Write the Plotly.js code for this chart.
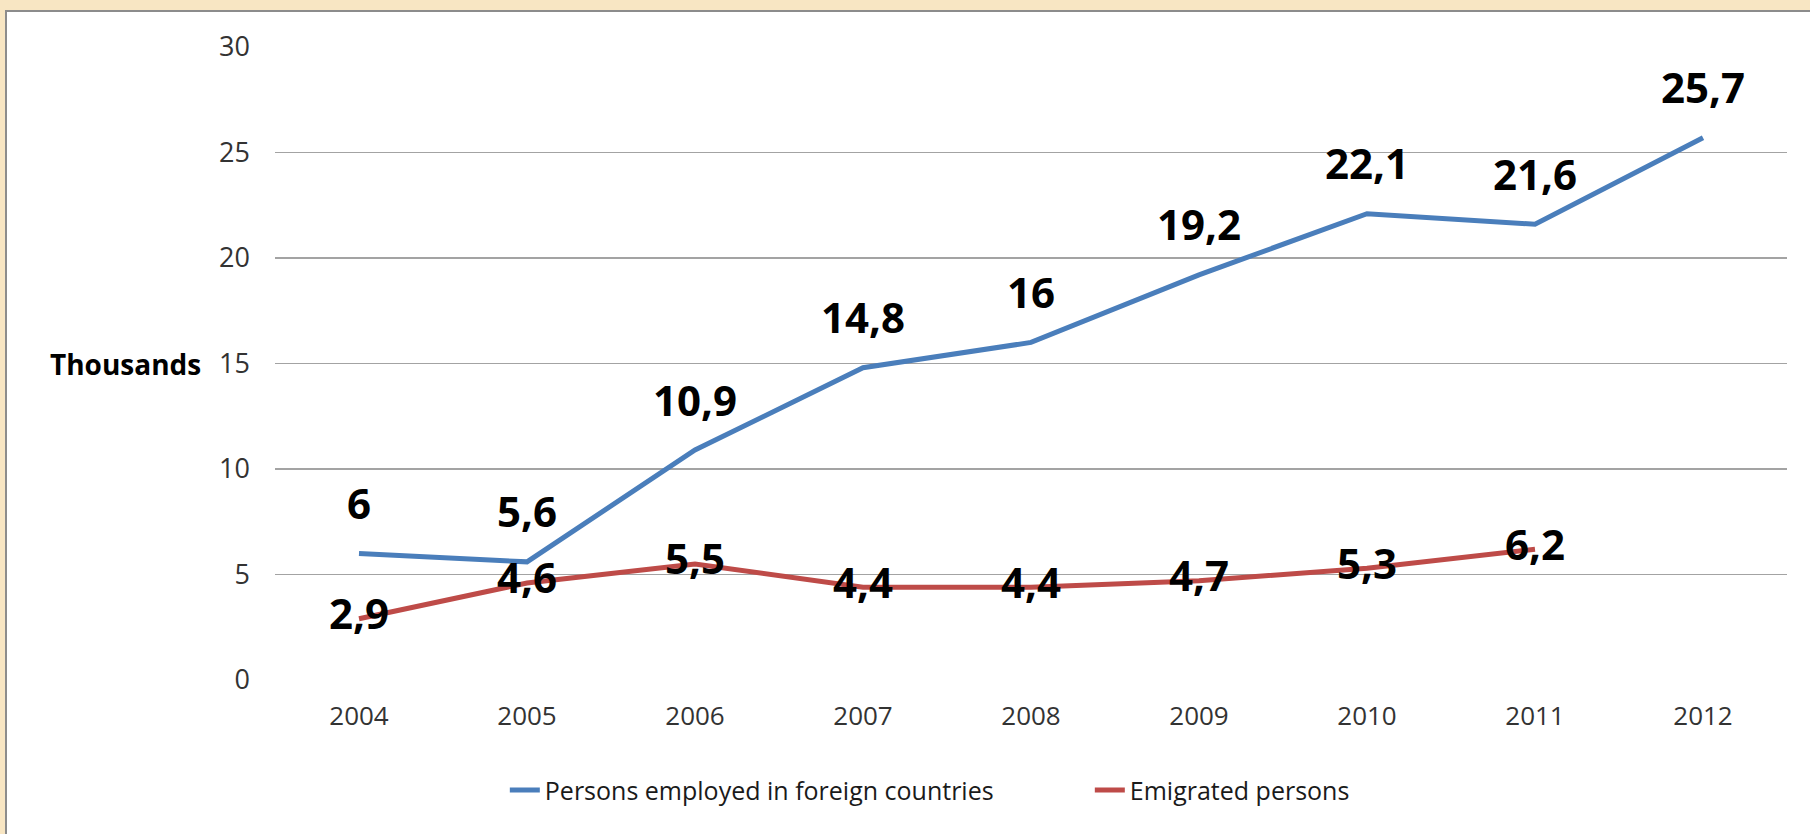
<!DOCTYPE html>
<html>
<head>
<meta charset="utf-8">
<script src="https://cdn.plot.ly/plotly-3.0.1.min.js"></script>
<style>
  html, body { margin: 0; padding: 0; background: #F8E6C3; width: 1810px; height: 834px; overflow: hidden; }
  #chart { position: absolute; left: 5px; top: 10px; width: 1805px; height: 824px;
           border-left: 2px solid #8c8c8c; border-top: 2px solid #8c8c8c; background: #fff; box-sizing: border-box; }
</style>
</head>
<body>
<div id="chart"></div>
<script>
const years = ['2004','2005','2006','2007','2008','2009','2010','2011','2012'];
const employedAbroad = [6, 5.6, 10.9, 14.8, 16, 19.2, 22.1, 21.6, 25.7];
const emigrated = [2.9, 4.6, 5.5, 4.4, 4.4, 4.7, 5.3, 6.2, null];
const yTicks = [0, 5, 10, 15, 20, 25, 30];
const seriesNames = ['Persons employed in foreign countries', 'Emigrated persons'];
const yTitle = 'Thousands';

const fmt = v => (v === null ? '' : String(v).replace('.', ','));
const FONT = '"Open Sans", "Liberation Sans", sans-serif';

const traces = [
  {
    x: years, y: employedAbroad, name: seriesNames[0], type: 'scatter', mode: 'lines',
    line: { color: '#4A7EBB', width: 5 }, hoverinfo: 'skip'
  },
  {
    x: years, y: emigrated, name: seriesNames[1], type: 'scatter', mode: 'lines+text',
    line: { color: '#BE4B48', width: 5 },
    text: emigrated.map(fmt), textposition: 'middle center',
    textfont: { family: FONT, size: 42, color: '#000', weight: 'bold' }, hoverinfo: 'skip'
  }
];

// category axis: annotation x uses the category index
const annotations = employedAbroad.map((v, i) => ({
  x: i, y: v, xref: 'x', yref: 'y', text: '<b>' + fmt(v) + '</b>',
  showarrow: false, yshift: 51, xanchor: 'center', yanchor: 'middle',
  font: { family: FONT, size: 42, color: '#000' }
}));
annotations.push({
  x: -0.0476, y: 15, xref: 'paper', yref: 'y', text: '<b>' + yTitle + '</b>',
  showarrow: false, xanchor: 'right', yanchor: 'middle',
  font: { family: FONT, size: 28, color: '#000' }
});

const layout = {
  width: 1803, height: 822,
  margin: { l: 268, r: 23, t: 35, b: 154, pad: 0 },
  paper_bgcolor: '#ffffff', plot_bgcolor: '#ffffff',
  showlegend: true,
  legend: {
    orientation: 'h', x: 0.152, xanchor: 'left', y: -0.174, yanchor: 'middle',
    font: { family: FONT, size: 25, color: '#1a1a1a' },
    entrywidth: 540, entrywidthmode: 'pixels', bgcolor: 'rgba(0,0,0,0)'
  },
  xaxis: {
    type: 'category', range: [-0.5, 8.5], showgrid: false, zeroline: false,
    showline: false, ticks: '', tickfont: { family: FONT, size: 26, color: '#333' },
    ticklabelstandoff: 18, fixedrange: true
  },
  yaxis: {
    range: [0, 30], tickvals: yTicks, showgrid: true, gridcolor: '#a3a3a3', gridwidth: 1.5,
    zeroline: false, showline: false, ticks: '',
    tickfont: { family: FONT, size: 27, color: '#333' },
    ticklabelstandoff: 24, fixedrange: true
  },
  annotations: annotations
};

Plotly.newPlot('chart', traces, layout, { displayModeBar: false, staticPlot: true });
</script>
</body>
</html>
